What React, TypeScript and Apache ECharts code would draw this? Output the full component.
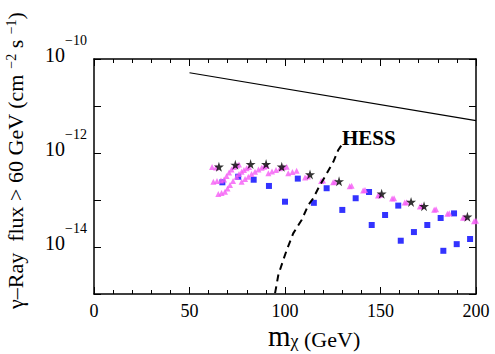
import React, { useEffect, useRef } from 'react';
import * as echarts from 'echarts';

const xTickLabels = [0, 50, 100, 150, 200];
const yLabelExponents = [-10, -12, -14];

const solidMass = [50, 200];
const solidFlux = [5.1e-11, 4.9e-12];

const hessMass = [94.8, 96.5, 99.1, 100.9, 104.3, 108.7, 112.2, 114.8, 118.3, 120.9, 125.3, 127.9, 130.2];
const hessFlux = [1.04e-15, 2.54e-15, 5.3e-15, 8.6e-15, 1.95e-14, 3.75e-14, 7.8e-14, 1.09e-13, 2.08e-13, 3.13e-13, 6.5e-13, 1.16e-12, 1.6e-12];

const starMass = [65.4, 74.0, 82.0, 90.1, 98.3, 113.1, 128.3, 150.6, 166.0, 172.8, 195.5];
const starFlux = [5.1e-13, 5.6e-13, 5.8e-13, 5.8e-13, 5.1e-13, 3.5e-13, 2.5e-13, 1.36e-13, 9.1e-14, 7.4e-14, 4.4e-14];

const squareMass = [67.2, 75.5, 83.6, 91.6, 100.0, 106.7, 115.1, 121.8, 130.0, 137.0, 144.0, 145.4, 152.4, 159.3, 160.6, 167.5, 174.5, 181.5, 182.9, 188.5, 189.9, 196.9];
const squareFlux = [2.38e-13, 3.13e-13, 2.70e-13, 1.99e-13, 9.2e-14, 2.85e-13, 8.7e-14, 1.78e-13, 6.15e-14, 1.09e-13, 1.48e-13, 2.94e-14, 4.8e-14, 7.6e-14, 1.36e-14, 2.08e-14, 2.94e-14, 4.14e-14, 8.3e-15, 5.19e-14, 1.15e-14, 1.48e-14];

const triMass = [
  61.8, 63.9,
  62.5, 64.4, 66.5, 68.1, 69.4, 70.7, 72.0, 73.3, 74.9, 75.9,
  65.1, 66.8, 68.6, 69.9, 71.2, 72.8, 74.7, 75.9, 77.3, 78.5, 79.9, 81.2,
  77.3, 79.1, 80.8, 82.5, 84.3, 86.1, 87.8, 89.0, 90.4,
  91.3, 93.2, 95.3, 97.4, 99.2, 100.9,
  101.7, 103.9, 106.1,
  110.5, 112.0,
  118.9, 119.9,
  125.2, 126.2,
  133.9, 134.9,
  140.9, 141.9,
  148.7, 149.7,
  156.1, 157.1,
  162.7, 163.7,
  170.6, 171.6,
  178.1, 179.1,
  185.0, 186.0,
  193.2, 194.2,
  199.0, 200.0,
];
const triFlux = [
  5.04e-13, 4.91e-13,
  2.45e-13, 2.54e-13, 2.60e-13, 2.73e-13, 3.24e-13, 3.85e-13, 4.46e-13, 5.04e-13, 5.42e-13, 5.69e-13,
  1.34e-13, 1.41e-13, 1.50e-13, 1.76e-13, 2.08e-13, 2.54e-13, 3.13e-13, 3.57e-13, 4.00e-13, 4.35e-13, 4.72e-13, 5.04e-13,
  2.45e-13, 2.80e-13, 3.13e-13, 3.57e-13, 4.00e-13, 4.46e-13, 4.87e-13, 5.12e-13, 5.29e-13,
  3.70e-13, 4.04e-13, 4.35e-13, 4.72e-13, 4.97e-13, 5.12e-13,
  3.70e-13, 3.94e-13, 4.20e-13,
  3.01e-13, 3.16e-13,
  2.55e-13, 2.60e-13,
  2.40e-13, 2.45e-13,
  1.97e-13, 2.01e-13,
  1.60e-13, 1.63e-13,
  1.25e-13, 1.28e-13,
  1.07e-13, 1.09e-13,
  8.8e-14, 8.93e-14,
  7.3e-14, 7.45e-14,
  6.2e-14, 6.34e-14,
  5.1e-14, 5.21e-14,
  4.2e-14, 4.29e-14,
  3.55e-14, 3.63e-14,
];

const serif = '"Liberation Serif", "DejaVu Serif", serif';
const STAR = 'path://M50,0 L61,35 L98,35 L68,57 L79,91 L50,70 L21,91 L32,57 L2,35 L39,35 Z';

const zip = (a: number[], b: number[]) => a.map((v, i) => [v, b[i]]);

export default function App() {
  const ref = useRef<HTMLDivElement>(null);
  useEffect(() => {
    if (!ref.current) return;
    const chart = echarts.init(ref.current, null, { renderer: 'svg' });
    const axisLine = { show: true, onZero: false, lineStyle: { color: '#000', width: 1.5 } };
    const xCommon = {
      type: 'value' as const,
      min: 0,
      max: 200,
      interval: 50,
      axisLine,
      axisTick: { show: true, inside: true, length: 7, lineStyle: { color: '#000', width: 1 } },
      minorTick: { show: true, splitNumber: 5, length: 4, lineStyle: { color: '#000', width: 1 } },
      splitLine: { show: false },
    };
    const yCommon = {
      type: 'log' as const,
      logBase: 10,
      min: 1e-15,
      max: 1e-10,
      axisLine,
      axisTick: { show: true, inside: true, length: 7, lineStyle: { color: '#000', width: 1 } },
      splitLine: { show: false },
    };
    chart.setOption({
      animation: false,
      backgroundColor: '#fff',
      grid: { left: 94, right: 19, top: 59, bottom: 60 },
      xAxis: [
        {
          ...xCommon,
          position: 'bottom',
          axisLabel: {
            color: '#000',
            fontSize: 18,
            fontFamily: serif,
            margin: 8,
            formatter: (v: number) => (xTickLabels.includes(v) ? String(v) : ''),
          },
        },
        { ...xCommon, position: 'top', axisLabel: { show: false } },
      ],
      yAxis: [
        {
          ...yCommon,
          position: 'left',
          axisLabel: {
            color: '#000',
            fontFamily: serif,
            margin: 7,
            formatter: (v: number) => {
              const e = Math.round(Math.log10(v));
              return yLabelExponents.includes(e) ? `{b|10}{s|−${-e}}` : '';
            },
            rich: {
              b: { fontSize: 20, fontFamily: serif, color: '#000', lineHeight: 20, padding: [0, 0, 8, 0], verticalAlign: 'middle' },
              s: { fontSize: 14, fontFamily: serif, color: '#000', lineHeight: 20, padding: [0, 0, 38, 0], verticalAlign: 'middle' },
            },
          },
        },
        { ...yCommon, position: 'right', axisLabel: { show: false } },
      ],
      series: [
        {
          type: 'scatter',
          data: zip(squareMass, squareFlux),
          symbol: 'rect',
          symbolSize: 6,
          itemStyle: { color: '#0000ff' },
          z: 2,
        },
        {
          type: 'scatter',
          data: zip(triMass, triFlux),
          symbol: 'triangle',
          symbolSize: 6,
          itemStyle: { color: '#f55cf5' },
          z: 3,
        },
        {
          type: 'scatter',
          data: zip(starMass, starFlux),
          symbol: STAR,
          symbolSize: 10,
          itemStyle: { color: '#000' },
          z: 4,
        },
        {
          type: 'line',
          data: zip(solidMass, solidFlux),
          symbol: 'none',
          lineStyle: { color: '#000', width: 1.2 },
          z: 5,
        },
        {
          type: 'line',
          data: zip(hessMass, hessFlux),
          symbol: 'none',
          lineStyle: { color: '#000', width: 2, type: [7, 5] },
          z: 5,
        },
      ],
      graphic: [
        {
          type: 'text',
          x: 342,
          y: 137.5,
          style: { text: 'HESS', fontFamily: serif, fontSize: 21, fontWeight: 'bold', fill: '#000', align: 'left', verticalAlign: 'middle' },
        },
        {
          type: 'text',
          x: 268,
          y: 339,
          style: {
            text: '{m|m}{c|χ}{g| (GeV)}',
            align: 'left',
            verticalAlign: 'middle',
            rich: {
              m: { fontSize: 29, lineHeight: 22, fontFamily: serif, fill: '#000', verticalAlign: 'bottom' },
              c: { fontSize: 18, lineHeight: 9, fontFamily: serif, fill: '#000', verticalAlign: 'bottom' },
              g: { fontSize: 22, lineHeight: 12, fontFamily: serif, fill: '#000', verticalAlign: 'bottom' },
            },
          },
        },
        {
          type: 'text',
          x: 15,
          y: 309,
          rotation: Math.PI / 2,
          style: {
            text: '{t|γ–Ray  flux > 60 GeV (cm }{s|−2}{t| s }{s|−1}{t|)}',
            align: 'left',
            verticalAlign: 'middle',
            rich: {
              t: { fontSize: 22, lineHeight: 22, fontFamily: serif, fill: '#000', verticalAlign: 'bottom' },
              s: { fontSize: 14, lineHeight: 14, fontFamily: serif, fill: '#000', verticalAlign: 'top' },
            },
          },
        },
      ],
    });
    return () => chart.dispose();
  }, []);
  return <div ref={ref} style={{ width: 495, height: 354, position: 'fixed', left: 0, top: 0 }} />;
}
